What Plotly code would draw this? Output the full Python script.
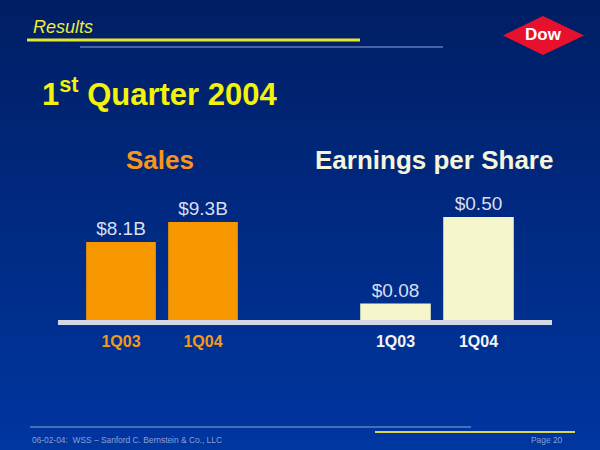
"""
Dow Chemical - 1st Quarter 2004 results slide (Sales and EPS bars).
"""

import plotly.graph_objects as go

# Data
quarters = ["1Q03", "1Q04"]
sales_values = [8.1, 9.3]            # $ billions
sales_labels = ["$8.1B", "$9.3B"]
eps_values = [0.08, 0.50]            # $ per share
eps_labels = ["$0.08", "$0.50"]

W, H = 600, 450
FONT = "Liberation Sans, Arial"


def px(x):
    return x / W


def py(y):
    # pixel from top -> paper coordinate from bottom
    return (H - y) / H


fig = go.Figure()

# Sales bars (left panel)
fig.add_trace(
    go.Bar(
        x=quarters,
        y=sales_values,
        text=sales_labels,
        textposition="outside",
        constraintext="none",
        textfont=dict(family=FONT, size=19, color="#d9def0"),
        marker=dict(color="#f79800", line=dict(width=0)),
        cliponaxis=False,
        xaxis="x",
        yaxis="y",
        hoverinfo="skip",
    )
)

# EPS bars (right panel)
fig.add_trace(
    go.Bar(
        x=quarters,
        y=eps_values,
        text=eps_labels,
        textposition="outside",
        constraintext="none",
        textfont=dict(family=FONT, size=19, color="#d9def0"),
        marker=dict(color="#f6f6cc", line=dict(width=0)),
        cliponaxis=False,
        xaxis="x2",
        yaxis="y2",
        hoverinfo="skip",
    )
)

# Background gradient: dark navy at top to brighter blue at bottom
shapes = []
top_rgb = (0, 30, 100)
bot_rgb = (0, 54, 160)
n_bands = 45
for i in range(n_bands):
    t = i / (n_bands - 1)
    r = round(top_rgb[0] + (bot_rgb[0] - top_rgb[0]) * t)
    g = round(top_rgb[1] + (bot_rgb[1] - top_rgb[1]) * t)
    b = round(top_rgb[2] + (bot_rgb[2] - top_rgb[2]) * t)
    y0 = i * H / n_bands
    y1 = (i + 1) * H / n_bands + 1
    shapes.append(dict(
        type="rect", xref="paper", yref="paper", layer="below",
        x0=0, x1=1, y0=py(y1), y1=py(y0),
        fillcolor=f"rgb({r},{g},{b})", line=dict(width=0),
    ))

# Header rules
shapes.append(dict(type="line", xref="paper", yref="paper",
                   x0=px(27), x1=px(360), y0=py(40), y1=py(40),
                   line=dict(color="#e6e62a", width=3)))
shapes.append(dict(type="line", xref="paper", yref="paper",
                   x0=px(80), x1=px(443), y0=py(47), y1=py(47),
                   line=dict(color="#8fa6e0", width=1)))

# Dow logo diamond
shapes.append(dict(
    type="path", xref="paper", yref="paper",
    path=(f"M {px(503)},{py(35.5)} L {px(543)},{py(16)} "
          f"L {px(584)},{py(35.5)} L {px(543)},{py(55)} Z"),
    fillcolor="#e8112d", line=dict(width=0),
))

# Baseline under the bars
shapes.append(dict(type="rect", xref="paper", yref="paper",
                   x0=px(58), x1=px(552), y0=py(325), y1=py(320),
                   fillcolor="#d4d8e4", line=dict(width=0)))

# Footer rules
shapes.append(dict(type="line", xref="paper", yref="paper",
                   x0=px(30), x1=px(471), y0=py(427), y1=py(427),
                   line=dict(color="#8fa6e0", width=1)))
shapes.append(dict(type="line", xref="paper", yref="paper",
                   x0=px(375), x1=px(575), y0=py(432), y1=py(432),
                   line=dict(color="#d4d84a", width=2)))


def note(text, x, y, size, color, xanchor="left", family=FONT):
    return dict(text=text, x=px(x), y=py(y), xref="paper", yref="paper",
                xanchor=xanchor, yanchor="middle", showarrow=False,
                font=dict(family=family, size=size, color=color))


annotations = [
    note("<i>Results</i>", 31, 27, 18, "#ecec3c"),
    note("<b>Dow</b>", 543, 35, 17, "#ffffff", "center"),
    note("<b>1<sup>st</sup> Quarter 2004</b>", 40, 92, 31, "#f2f20a"),
    note("<b>Sales</b>", 160, 160, 26, "#f7961c", "center"),
    note("<b>Earnings per Share</b>", 434, 160, 26, "#f5f5dc", "center"),
    note("06-02-04:  WSS \u2013 Sanford C. Bernstein &amp; Co., LLC", 30, 440, 8.4,
         "#8c9fd4"),
    note("Page 20", 565, 440, 8.4, "#8c9fd4", "right"),
]

axis_common = dict(showgrid=False, zeroline=False, showline=False, fixedrange=True)

fig.update_layout(
    width=W,
    height=H,
    margin=dict(l=0, r=0, t=0, b=0),
    paper_bgcolor="#002a80",
    plot_bgcolor="rgba(0,0,0,0)",
    showlegend=False,
    bargap=0.15,
    shapes=shapes,
    annotations=annotations,
    xaxis=dict(domain=[px(80), px(244)], anchor="y", ticks="", range=[-0.5, 1.5],
               ticklabelstandoff=10, tickangle=0,
               tickfont=dict(family=FONT, size=16, color="#f39a1a", weight="bold"),
               **axis_common),
    yaxis=dict(domain=[py(320), py(190)], anchor="x", range=[3.42, 11.22],
               showticklabels=False, **axis_common),
    xaxis2=dict(domain=[px(354), px(520)], anchor="y2", ticks="", range=[-0.5, 1.5],
                ticklabelstandoff=10, tickangle=0,
                tickfont=dict(family=FONT, size=16, color="#f4f4f4", weight="bold"),
                **axis_common),
    yaxis2=dict(domain=[py(320), py(190)], anchor="x2", range=[0, 0.631],
                showticklabels=False, **axis_common),
    font=dict(family=FONT),
)

# drop the browser's default page margin so the slide fills the window
fig.write_html("out.html", config={"displayModeBar": False},
               post_script="document.body.style.margin='0';")
